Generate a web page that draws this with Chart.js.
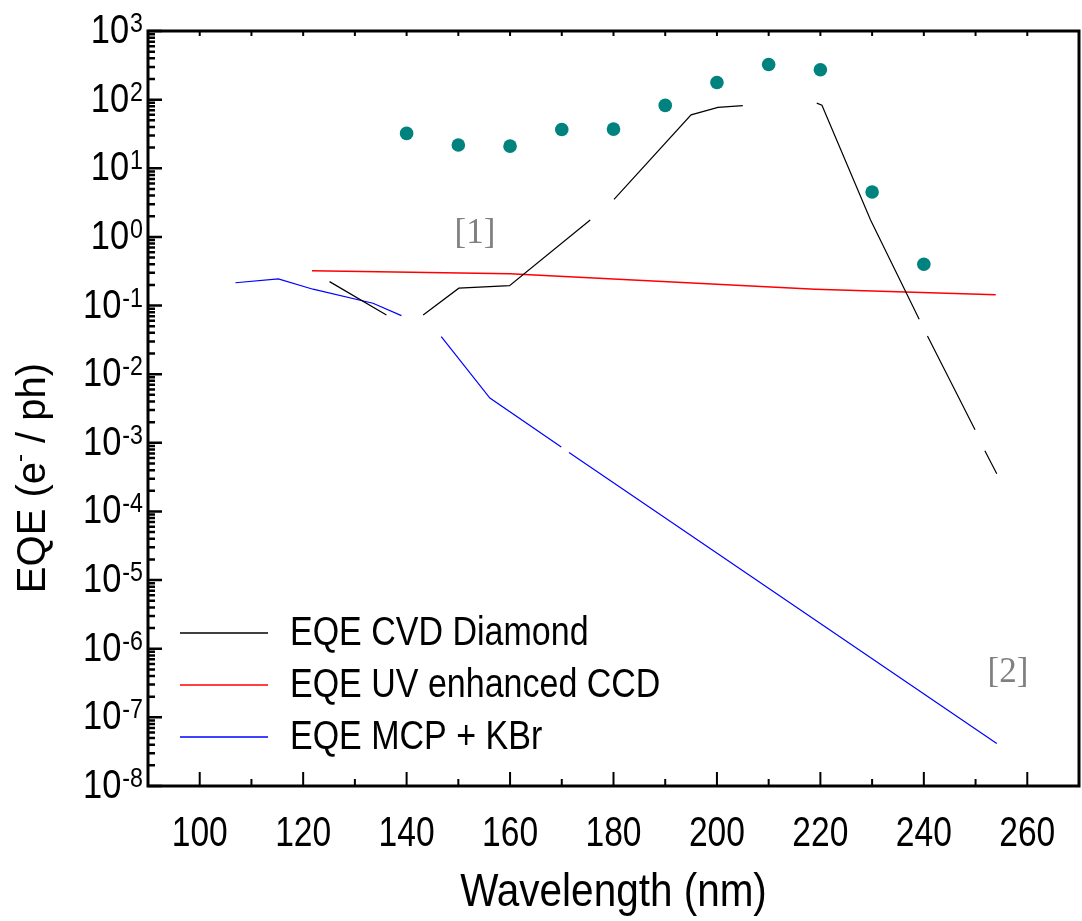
<!DOCTYPE html>
<html>
<head>
<meta charset="utf-8">
<title>EQE vs wavelength</title>
<script src="https://cdn.jsdelivr.net/npm/chart.js@4.4.1/dist/chart.umd.min.js"></script>
<style>
  html, body { margin: 0; padding: 0; background: #fff; }
  #eqeChart { display: block; }
</style>
</head>
<body>
<canvas id="eqeChart" width="1082" height="921"></canvas>
<script>
// CVD diamond EQE (null = break in the drawn curve)
const cvdWavelength = [125.1, 136.1, 139.6, 143.2, 150.1, 159.9, 175.5, 177.8, 180.1, 195.0, 200.2, 205.0, 212.0, 219.3, 220.3, 229.7, 239.1, 239.9, 240.7, 249.9, 250.8, 251.8, 254.1];
const cvdEqe = [0.223, 0.073, null, 0.073, 0.179, 0.195, 1.76, null, 3.52, 60, 77, 82, null, 89, 83, 1.76, 0.0632, null, 0.0361, 0.00155, null, 7.66e-4, 3.54e-4];

// UV enhanced CCD
const ccdWavelength = [121.7, 160.0, 219.0, 253.9];
const ccdEqe = [0.322, 0.29, 0.173, 0.144];

// MCP + KBr photocathode
const mcpWavelength = [106.9, 115.2, 121.9, 133.5, 139.0, 143.0, 146.7, 156.1, 169.9, 170.7, 171.4, 254.1];
const mcpEqe = [0.215, 0.244, 0.173, 0.108, 0.0713, null, 0.0352, 0.00448, 8.69e-4, null, 7.24e-4, 4.16e-8];

// measured diamond points
const measWavelength = [140, 150, 160, 170, 180, 190, 200, 210, 220, 230, 240];
const measEqe = [32.2, 21.8, 21.0, 36.8, 37.2, 82.4, 178, 325, 272, 4.51, 0.399];

const xTickValues = [100, 120, 140, 160, 180, 200, 220, 240, 260];
const yTickExponents = [3, 2, 1, 0, -1, -2, -3, -4, -5, -6, -7, -8];

const SANS = "'Liberation Sans', Arial, sans-serif";
const SERIF = "'Liberation Serif', 'Times New Roman', serif";

function toPoints(xs, ys) {
  return xs.map((x, i) => ({ x: x, y: ys[i] }));
}

// text squeezed horizontally to get the narrow Arial look
function narrowText(ctx, text, x, y, size, sx, align, baseline) {
  ctx.save();
  ctx.font = size + 'px ' + SANS;
  ctx.textAlign = align;
  ctx.textBaseline = baseline || 'alphabetic';
  ctx.translate(x, y);
  ctx.scale(sx, 1);
  ctx.fillText(text, 0, 0);
  ctx.restore();
}

function narrowWidth(ctx, text, size, sx) {
  ctx.font = size + 'px ' + SANS;
  return ctx.measureText(text).width * sx;
}

// frame, inward ticks, axis labels, legend and reference marks
const decorations = {
  id: 'decorations',
  afterDraw(chart) {
    const ctx = chart.ctx;
    const a = chart.chartArea;
    const xs = chart.scales.x;
    const ys = chart.scales.y;
    ctx.save();
    ctx.strokeStyle = '#000';
    ctx.fillStyle = '#000';

    // left axis ticks
    ctx.lineWidth = 2.5;
    ctx.beginPath();
    yTickExponents.forEach(e => {
      const py = ys.getPixelForValue(Math.pow(10, e));
      ctx.moveTo(a.left, py);
      ctx.lineTo(a.left + 14, py);
      if (e < yTickExponents[0]) {
        for (let m = 2; m <= 9; m++) {
          const my = ys.getPixelForValue(m * Math.pow(10, e));
          ctx.moveTo(a.left, my);
          ctx.lineTo(a.left + 7, my);
        }
      }
    });
    ctx.stroke();

    // bottom and top ticks
    ctx.lineWidth = 2;
    ctx.beginPath();
    for (let v = 100; v <= 260; v += 10) {
      const px = xs.getPixelForValue(v);
      const len = v % 20 === 0 ? 14 : 7;
      ctx.moveTo(px, a.bottom);
      ctx.lineTo(px, a.bottom - len);
      ctx.moveTo(px, a.top);
      ctx.lineTo(px, a.top + 5);
    }
    ctx.stroke();

    // frame
    ctx.lineWidth = 3;
    ctx.strokeRect(a.left, a.top, a.right - a.left, a.bottom - a.top);

    // x tick labels and title
    xTickValues.forEach(v => {
      narrowText(ctx, String(v), xs.getPixelForValue(v), 846, 42, 0.8, 'center');
    });
    narrowText(ctx, 'Wavelength (nm)', (a.left + a.right) / 2, 906, 46, 0.88, 'center');

    // y tick labels: 10 with raised exponent
    yTickExponents.forEach(e => {
      const py = ys.getPixelForValue(Math.pow(10, e));
      const sup = String(e);
      const right = 143;
      const supW = narrowWidth(ctx, sup, 27, 0.86);
      const baseW = narrowWidth(ctx, '10', 40, 0.86);
      narrowText(ctx, '10', right - supW - baseW - 1, py + 1, 40, 0.86, 'left', 'middle');
      narrowText(ctx, sup, right - supW, py + 1, 27, 0.86, 'left');
    });

    // y axis title
    ctx.save();
    ctx.translate(34, 478);
    ctx.rotate(-Math.PI / 2);
    ctx.textBaseline = 'middle';
    ctx.textAlign = 'left';
    ctx.font = '40px ' + SANS;
    const t1 = 'EQE (e', t3 = ' / ph)';
    const w1 = ctx.measureText(t1).width;
    const w3 = ctx.measureText(t3).width;
    ctx.font = '24px ' + SANS;
    const w2 = ctx.measureText('-').width;
    const start = -(w1 + w2 + w3) / 2;
    ctx.font = '40px ' + SANS;
    ctx.fillText(t1, start, 0);
    ctx.fillText(t3, start + w1 + w2, 0);
    ctx.font = '24px ' + SANS;
    ctx.fillText('-', start + w1, -14);
    ctx.restore();

    // legend for the three curves
    [0, 1, 2].forEach(i => {
      const ds = chart.data.datasets[i];
      const ly = 633 + i * 52;
      ctx.strokeStyle = ds.borderColor;
      ctx.lineWidth = 1.3;
      ctx.beginPath();
      ctx.moveTo(180, ly);
      ctx.lineTo(268, ly);
      ctx.stroke();
      ctx.fillStyle = '#000';
      narrowText(ctx, ds.label, 290, ly + 1, 40, 0.85, 'left', 'middle');
    });

    // reference marks
    ctx.font = '35px ' + SERIF;
    ctx.fillStyle = '#808080';
    ctx.textAlign = 'center';
    ctx.textBaseline = 'alphabetic';
    ctx.fillText('[1]', 475, 243);
    ctx.fillText('[2]', 1008, 682);
    ctx.restore();
  }
};

new Chart(document.getElementById('eqeChart'), {
  type: 'line',
  data: {
    datasets: [
      {
        label: 'EQE CVD Diamond',
        data: toPoints(cvdWavelength, cvdEqe),
        borderColor: '#000000',
        borderWidth: 1.2,
        pointRadius: 0,
        spanGaps: false
      },
      {
        label: 'EQE UV enhanced CCD',
        data: toPoints(ccdWavelength, ccdEqe),
        borderColor: '#ff0000',
        borderWidth: 1.5,
        pointRadius: 0
      },
      {
        label: 'EQE MCP + KBr',
        data: toPoints(mcpWavelength, mcpEqe),
        borderColor: '#0000ff',
        borderWidth: 1.2,
        pointRadius: 0,
        spanGaps: false
      },
      {
        label: 'measured',
        data: toPoints(measWavelength, measEqe),
        showLine: false,
        pointRadius: 6.8,
        pointBackgroundColor: '#00827f',
        pointBorderColor: '#00827f',
        pointBorderWidth: 0
      }
    ]
  },
  options: {
    responsive: false,
    animation: false,
    devicePixelRatio: 1,
    layout: {
      autoPadding: false,
      padding: { left: 148, right: 3, top: 31, bottom: 135 }
    },
    plugins: {
      legend: { display: false },
      tooltip: { enabled: false }
    },
    scales: {
      x: {
        type: 'linear',
        display: false,
        min: 90,
        max: 270
      },
      y: {
        type: 'logarithmic',
        display: false,
        min: 1e-8,
        max: 1e3
      }
    }
  },
  plugins: [decorations]
});
</script>
</body>
</html>
